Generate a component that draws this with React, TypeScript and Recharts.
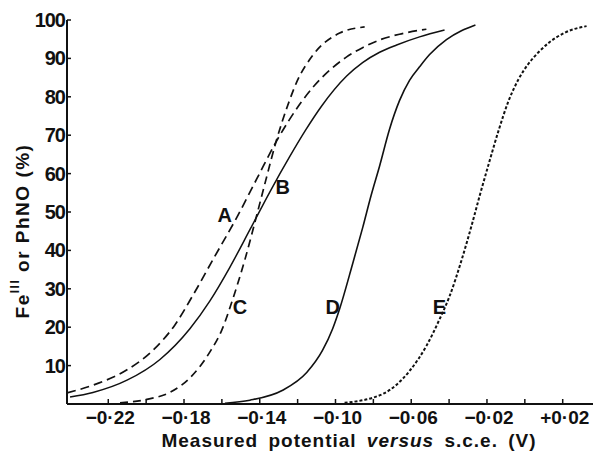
import { LineChart, Line, XAxis, YAxis, ReferenceDot, Label } from "recharts";

// tick values
const xTicks = [-0.22, -0.2, -0.18, -0.16, -0.14, -0.12, -0.1, -0.08, -0.06, -0.04, -0.02, 0, 0.02];
const yTicks = [10, 20, 30, 40, 50, 60, 70, 80, 90, 100];

// [potential (V), percent]
const curveA = [
  [-0.2418, 2.9], [-0.2281, 4.9], [-0.2101, 8.9], [-0.1964, 14.0], [-0.1848, 20.6],
  [-0.1753, 28.3], [-0.1637, 38.5], [-0.1521, 48.6], [-0.1416, 58.6], [-0.131, 68.6],
  [-0.1244, 74.0], [-0.1178, 78.8], [-0.111, 83.0], [-0.1031, 86.9], [-0.0941, 90.4],
  [-0.0857, 92.8], [-0.0767, 94.8], [-0.0662, 96.3], [-0.052, 97.6],
];
const curveB = [
  [-0.2402, 1.8], [-0.2281, 3.0], [-0.2101, 6.2], [-0.1927, 11.6], [-0.1769, 19.6],
  [-0.1664, 26.8], [-0.1558, 35.6], [-0.1452, 45.4], [-0.1347, 55.2], [-0.1242, 64.4],
  [-0.1158, 71.3], [-0.1073, 77.6], [-0.0941, 85.4], [-0.0857, 88.9], [-0.0767, 91.6],
  [-0.0677, 93.5], [-0.0556, 95.6], [-0.0424, 97.4],
];
const curveC = [
  [-0.2138, 0.3], [-0.1996, 1.2], [-0.1875, 3.0], [-0.1769, 6.8], [-0.1664, 13.5],
  [-0.16, 19.3], [-0.1542, 27.4], [-0.1479, 37.5], [-0.141, 50.3], [-0.1368, 58.3],
  [-0.131, 69.0], [-0.1252, 77.8], [-0.1205, 83.8], [-0.112, 90.8], [-0.0978, 96.6],
  [-0.0846, 98.2],
];
const curveD = [
  [-0.1584, 0.2], [-0.1452, 1.0], [-0.1279, 3.6], [-0.1152, 8.2], [-0.1068, 14.0],
  [-0.1015, 19.6], [-0.0978, 24.8], [-0.0909, 36.6], [-0.0856, 46.0], [-0.0812, 54.3],
  [-0.0767, 62.0], [-0.0715, 71.5], [-0.0662, 79.0], [-0.0609, 84.3], [-0.0556, 87.8],
  [-0.0503, 91.0], [-0.0414, 94.9], [-0.0335, 97.2], [-0.0261, 98.7],
];
const curveE = [
  [-0.0952, 0.3], [-0.0751, 2.6], [-0.0609, 8.6], [-0.0519, 15.2], [-0.0451, 22.0],
  [-0.0398, 28.0], [-0.0334, 37.5], [-0.0281, 46.5], [-0.0237, 54.5], [-0.0192, 62.3],
  [-0.014, 71.0], [-0.0087, 78.8], [-0.0034, 84.5], [0.0019, 88.6], [0.0072, 91.6],
  [0.013, 94.2], [0.0215, 96.8], [0.0326, 98.4],
];

const curveLabels = [
  { name: "A", x: -0.1585, y: 49.2 },
  { name: "B", x: -0.1279, y: 56.5 },
  { name: "C", x: -0.1505, y: 25.3 },
  { name: "D", x: -0.1015, y: 25.3 },
  { name: "E", x: -0.0451, y: 25.3 },
];

const FONT = '"Liberation Sans", Arial, sans-serif';
const INK = "#111";

const toPoints = (rows: number[][]) => rows.map(([x, y]) => ({ x, y }));

const fmt = (v: number) => {
  if (Math.abs(v) < 1e-9) return "0·00";
  const s = Math.abs(v).toFixed(2).replace(".", "·");
  return (v < 0 ? "−" : "+") + s;
};

const XTick = (props: any) => {
  const { x, y, payload } = props;
  const v = payload.value as number;
  const show = Math.abs(Math.round(v * 100)) % 4 === 2;
  return (
    <g>
      <line x1={x} y1={y} x2={x} y2={y - 5} stroke={INK} strokeWidth={1.5} />
      {show && (
        <text x={x + 2} y={y + 20} textAnchor="middle" fontFamily={FONT} fontWeight="bold" fontSize={19} fill={INK}>
          {fmt(v)}
        </text>
      )}
    </g>
  );
};

const YTick = (props: any) => {
  const { x, y, payload } = props;
  return (
    <g>
      <line x1={x} y1={y} x2={x + 4} y2={y} stroke={INK} strokeWidth={1.5} />
      <text x={x - 2} y={y + 7} textAnchor="end" fontFamily={FONT} fontWeight="bold" fontSize={20} letterSpacing={-1} fill={INK}>
        {payload.value}
      </text>
    </g>
  );
};

const XTitle = (props: any) => {
  const vb = props.viewBox;
  return (
    <text
      x={vb.x + vb.width / 2 + 19}
      y={vb.y + 43}
      textAnchor="middle"
      fontFamily={FONT}
      fontWeight="bold"
      fontSize={19}
      letterSpacing={1}
      wordSpacing={4}
      fill={INK}
    >
      Measured potential <tspan fontStyle="italic">versus</tspan> s.c.e. (V)
    </text>
  );
};

const YTitle = (props: any) => {
  const vb = props.viewBox;
  const cx = vb.x + 22;
  const cy = 231;
  return (
    <text
      x={cx}
      y={cy}
      transform={`rotate(-90, ${cx}, ${cy})`}
      textAnchor="middle"
      dominantBaseline="central"
      fontFamily={FONT}
      fontWeight="bold"
      fontSize={19}
      letterSpacing={1.5}
      fill={INK}
    >
      Fe<tspan dy={-7} fontSize={12}>III</tspan>
      <tspan dy={7}> or PhNO (%)</tspan>
    </text>
  );
};

const LetterMark = (name: string) => (p: any) => (
  <text x={p.cx} y={p.cy + 7} textAnchor="middle" fontFamily={FONT} fontWeight="bold" fontSize={20} fill={INK}>
    {name}
  </text>
);

export default function App() {
  return (
    <div style={{ position: "absolute", left: 0, top: 0, width: 593, height: 451, background: "#fff" }}>
      <LineChart width={593} height={451} margin={{ top: 20, right: 0, bottom: 0, left: 0 }}>
        <XAxis
          type="number"
          dataKey="x"
          domain={[-0.2418, 0.036]}
          ticks={xTicks}
          interval={0}
          allowDataOverflow
          height={47}
          tickSize={0}
          tickMargin={0}
          tickLine={false}
          tick={<XTick />}
          axisLine={{ stroke: INK, strokeWidth: 2 }}
        >
          <Label content={<XTitle />} />
        </XAxis>
        <YAxis
          type="number"
          domain={[0, 100]}
          ticks={yTicks}
          interval={0}
          width={67}
          tickSize={0}
          tickMargin={0}
          tickLine={false}
          tick={<YTick />}
          axisLine={{ stroke: INK, strokeWidth: 2 }}
        >
          <Label content={<YTitle />} />
        </YAxis>
        <Line data={toPoints(curveA)} dataKey="y" type="monotone" stroke={INK} strokeWidth={1.7} strokeDasharray="9 5" dot={false} isAnimationActive={false} />
        <Line data={toPoints(curveB)} dataKey="y" type="monotone" stroke={INK} strokeWidth={1.5} dot={false} isAnimationActive={false} />
        <Line data={toPoints(curveC)} dataKey="y" type="monotone" stroke={INK} strokeWidth={1.7} strokeDasharray="8 5" dot={false} isAnimationActive={false} />
        <Line data={toPoints(curveD)} dataKey="y" type="monotone" stroke={INK} strokeWidth={1.6} dot={false} isAnimationActive={false} />
        <Line data={toPoints(curveE)} dataKey="y" type="monotone" stroke={INK} strokeWidth={2} strokeDasharray="3 2" dot={false} isAnimationActive={false} />
        {curveLabels.map((l) => (
          <ReferenceDot key={l.name} x={l.x} y={l.y} r={0} shape={LetterMark(l.name)} />
        ))}
      </LineChart>
    </div>
  );
}
